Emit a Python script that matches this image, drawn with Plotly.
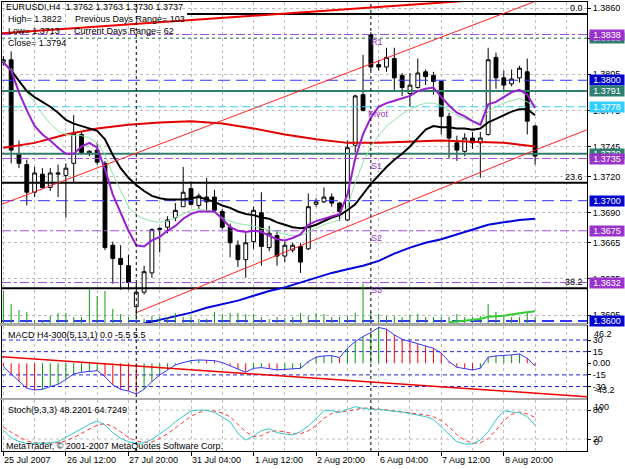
import plotly.graph_objects as go

# ---------------- data ----------------
bar_idx = list(range(69))
open_ = [1.3815, 1.3817, 1.3739, 1.3730, 1.3707, 1.3722, 1.3711, 1.3722, 1.3721, 1.3731,
         1.3755, 1.3739, 1.3742, 1.3731, 1.3663, 1.3652, 1.3646, 1.3612, 1.3624, 1.3640,
         1.3676, 1.3678, 1.3686, 1.3695, 1.3710, 1.3696, 1.3703, 1.3703, 1.3691, 1.3678,
         1.3663, 1.3651, 1.3666, 1.3690, 1.3661, 1.3671, 1.3654, 1.3659, 1.3662, 1.3660,
         1.3697, 1.3699, 1.3703, 1.3698, 1.3684, 1.3746, 1.3788, 1.3838, 1.3813, 1.3811,
         1.3818, 1.3804, 1.3789, 1.3794, 1.3807, 1.3804, 1.3799, 1.3770, 1.3748, 1.3741,
         1.3752, 1.3748, 1.3755, 1.3819, 1.3802, 1.3797, 1.3802, 1.3807, 1.3762]
high = [1.3820, 1.3824, 1.3750, 1.3734, 1.3728, 1.3727, 1.3727, 1.3730, 1.3731, 1.3771,
        1.3757, 1.3742, 1.3748, 1.3733, 1.3666, 1.3663, 1.3655, 1.3632, 1.3646, 1.3677,
        1.3678, 1.3687, 1.3698, 1.3728, 1.3716, 1.3706, 1.3719, 1.3709, 1.3693, 1.3681,
        1.3667, 1.3673, 1.3695, 1.3707, 1.3679, 1.3675, 1.3666, 1.3665, 1.3665, 1.3706,
        1.3702, 1.3711, 1.3706, 1.3699, 1.3750, 1.3788, 1.3821, 1.3840, 1.3817, 1.3827,
        1.3827, 1.3806, 1.3806, 1.3818, 1.3809, 1.3807, 1.3800, 1.3773, 1.3754, 1.3756,
        1.3757, 1.3757, 1.3827, 1.3823, 1.3808, 1.3809, 1.3812, 1.3818, 1.3763]
low = [1.3812, 1.3731, 1.3727, 1.3696, 1.3703, 1.3710, 1.3708, 1.3703, 1.3686, 1.3715,
       1.3738, 1.3737, 1.3730, 1.3659, 1.3631, 1.3626, 1.3626, 1.3605, 1.3622, 1.3636,
       1.3657, 1.3673, 1.3683, 1.3695, 1.3696, 1.3693, 1.3692, 1.3691, 1.3676, 1.3653,
       1.3645, 1.3636, 1.3660, 1.3646, 1.3658, 1.3646, 1.3649, 1.3657, 1.3640, 1.3659,
       1.3695, 1.3698, 1.3695, 1.3683, 1.3683, 1.3740, 1.3774, 1.3808, 1.3808, 1.3807,
       1.3792, 1.3787, 1.3778, 1.3793, 1.3796, 1.3788, 1.3755, 1.3735, 1.3733, 1.3737,
       1.3743, 1.3719, 1.3754, 1.3793, 1.3792, 1.3795, 1.3798, 1.3755, 1.3730]
close = [1.3817, 1.3742, 1.3731, 1.3707, 1.3723, 1.3711, 1.3723, 1.3723, 1.3727, 1.3756,
         1.3740, 1.3741, 1.3732, 1.3661, 1.3652, 1.3647, 1.3632, 1.3624, 1.3641, 1.3676,
         1.3677, 1.3684, 1.3692, 1.3707, 1.3697, 1.3704, 1.3699, 1.3692, 1.3678, 1.3665,
         1.3651, 1.3665, 1.3692, 1.3662, 1.3673, 1.3654, 1.3663, 1.3663, 1.3649, 1.3695,
         1.3699, 1.3703, 1.3698, 1.3691, 1.3744, 1.3787, 1.3775, 1.3811, 1.3811, 1.3819,
         1.3802, 1.3794, 1.3796, 1.3806, 1.3803, 1.3799, 1.3770, 1.3752, 1.3742, 1.3752,
         1.3748, 1.3752, 1.3817, 1.3802, 1.3796, 1.3801, 1.3810, 1.3766, 1.3737]

ma_purple = [1.3815, 1.3808, 1.3790, 1.3775, 1.3762, 1.3755, 1.3750, 1.3744, 1.3739, 1.3739,
             1.3745, 1.3748, 1.3744, 1.3726, 1.3705, 1.3690, 1.3675, 1.3663, 1.3662, 1.3667,
             1.3670, 1.3675, 1.3679, 1.3685, 1.3689, 1.3691, 1.3691, 1.3691, 1.3685, 1.3678,
             1.3675, 1.3674, 1.3675, 1.3674, 1.3671, 1.3668, 1.3667, 1.3669, 1.3672, 1.3680,
             1.3683, 1.3685, 1.3687, 1.3689, 1.3705, 1.3735, 1.3755, 1.3769, 1.3778, 1.3781,
             1.3783, 1.3785, 1.3787, 1.3791, 1.3793, 1.3794, 1.3786, 1.3779, 1.3773, 1.3770,
             1.3766, 1.3763, 1.3780, 1.3782, 1.3786, 1.3790, 1.3792, 1.3788, 1.3777]
ma_green = [None, 1.3810, 1.3800, 1.3790, 1.3782, 1.3772, 1.3764, 1.3758, 1.3755, 1.3754,
            1.3754, 1.3752, 1.3748, 1.3738, 1.3722, 1.3708, 1.3695, 1.3688, 1.3685, 1.3683,
            1.3682, 1.3683, 1.3686, 1.3689, 1.3692, 1.3693, 1.3692, 1.3690, 1.3686, 1.3683,
            1.3681, 1.3680, 1.3679, 1.3677, 1.3676, 1.3674, 1.3672, 1.3671, 1.3671, 1.3674,
            1.3677, 1.3680, 1.3682, 1.3684, 1.3695, 1.3715, 1.3732, 1.3745, 1.3754, 1.3762,
            1.3767, 1.3772, 1.3776, 1.3779, 1.3781, 1.3781, 1.3779, 1.3775, 1.3771, 1.3768,
            1.3766, 1.3765, 1.3774, 1.3778, 1.3781, 1.3783, 1.3785, 1.3782, 1.3778]
ma_black = [None, 1.3808, 1.3799, 1.3791, 1.3786, 1.3782, 1.3778, 1.3773, 1.3767, 1.3764,
            1.3762, 1.3760, 1.3758, 1.3751, 1.3738, 1.3727, 1.3719, 1.3713, 1.3708, 1.3704,
            1.3702, 1.3701, 1.3701, 1.3701, 1.3702, 1.3703, 1.3701, 1.3699, 1.3696, 1.3694,
            1.3691, 1.3689, 1.3688, 1.3686, 1.3685, 1.3682, 1.3680, 1.3678, 1.3677, 1.3678,
            1.3680, 1.3683, 1.3686, 1.3688, 1.3692, 1.3697, 1.3706, 1.3714, 1.3721, 1.3728,
            1.3734, 1.3739, 1.3745, 1.3752, 1.3759, 1.3762, 1.3761, 1.3761, 1.3760, 1.3760,
            1.3759, 1.3760, 1.3765, 1.3768, 1.3771, 1.3774, 1.3776, 1.3776, 1.3771]
red_idx = [0, 4, 8, 12, 16, 20, 24, 28, 32, 36, 40, 44, 48, 52, 56, 60, 64, 68]
ma_red = [1.3744, 1.3748, 1.3755, 1.3760, 1.3763, 1.3765, 1.3766, 1.3764, 1.3760,
          1.3755, 1.3751, 1.3748, 1.3748, 1.3749, 1.3750, 1.3749, 1.3748, 1.3745]
blue_idx = list(range(16, 69, 2))
ma_blue = [1.3594, 1.3598, 1.3601, 1.3604, 1.3607, 1.3611, 1.3614, 1.3617, 1.3621,
           1.3625, 1.3628, 1.3632, 1.3636, 1.3640, 1.3643, 1.3646, 1.3650, 1.3656,
           1.3661, 1.3665, 1.3668, 1.3672, 1.3676, 1.3680, 1.3682, 1.3684, 1.3685]

volume = [1600, 950, 650, 550, 150, 150, 350, 500, 500, 300,
          300, 1700, 1350, 1600, 700, 450, 300, 450, 200, 350,
          300, 300, 500, 300, 300, 200, 200, 550, 450, 500,
          500, 450, 450, 300, 200, 300, 250, 300, 500, 350,
          500, 450, 300, 300, 350, 500, 1950, 550, 450, 350,
          350, 300, 400, 450, 300, 300, 300, 300, 450, 300,
          300, 350, 950, 550, 300, 300, 300, 500, 300]
obv_idx = [57, 59, 61, 62, 64, 66, 68]
obv_val = [35, 115, 200, 315, 365, 485, 585]

# trendlines (anchor points)
chanA_x, chanA_y = [-0.2, 68, 74.7], [1.3697, 1.3865, 1.3882]
chanB_x, chanB_y = [17, 68, 74.7], [1.3607, 1.3742, 1.3759]
topline_x, topline_y = [-0.2, 74.7], [1.3839, 1.3873]

macd = [-4.3, -13.8, -23.7, -32.3, -34.5, -33.6, -30.2, -27.2, -20.7, -13.8,
        -11.6, -10.8, -9.5, -17.2, -28.0, -33.6, -35.8, -39.7, -33.6, -23.7,
        -15.1, -8.6, -2.2, 0.9, 3.4, 4.3, 4.3, 3.4, 0.9, -3.4,
        -7.8, -11.6, -6.5, -5.6, -6.9, -8.6, -7.8, -7.3, -6.5, 2.2,
        7.8, 9.5, 9.9, 7.3, 19.4, 28.0, 34.5, 39.7, 46.2, 44.0,
        36.6, 31.0, 28.0, 25.0, 22.4, 19.4, 12.9, 2.2, -5.2, -6.9,
        -8.6, -6.5, 7.8, 9.5, 9.9, 10.8, 12.1, 6.5, -3.4]
macd_trend_x, macd_trend_y = [-0.2, 74.7], [8.3, -43.2]
macd_levels = [30, 15, -15, -30]
macd_max, macd_min = 46.2, -43.2

stoch_main = [38.6, 22.8, 14.5, 11, 11, 11, 11.7, 14.5, 23.5, 31.7,
              40.7, 50.4, 57.3, 49, 33.1, 21.4, 14.5, 11, 12.4, 19.3,
              30.4, 42.1, 55.9, 66.3, 78, 80, 79.4, 75.2, 66.3, 55.9,
              31.7, 17.9, 26.2, 37.3, 41.4, 33.1, 30.4, 28.3, 35.2, 46.9,
              62.1, 78.7, 78.7, 74.5, 81.4, 87, 83.5, 81.4, 81.4, 78.7,
              77.3, 75.9, 73.2, 69.7, 66.3, 60.7, 45.5, 28.3, 14.5, 9.7,
              9.7, 17.9, 35.2, 59.4, 78.7, 75.9, 74.5, 66.3, 48.2]
stoch_sig = [45, 34, 25, 16, 12, 11, 11, 12, 16, 23,
             32, 41, 49, 52, 46, 35, 23, 16, 13, 14,
             21, 31, 43, 55, 67, 75, 79, 78, 74, 66,
             51, 35, 25, 27, 35, 37, 35, 31, 31, 37,
             48, 63, 73, 77, 78, 81, 84, 84, 82, 80,
             79, 77, 75, 73, 70, 66, 58, 45, 29, 18,
             11, 12, 21, 38, 58, 71, 76, 72, 64.7]
stoch_levels = [20, 80]

price_ticks = [1.3860, 1.3835, 1.3805, 1.3775, 1.3745, 1.3720, 1.3690, 1.3665, 1.3635, 1.3605]
macd_ticks = [30, 15, 0, -15, -30]
macd_ticktext = ["30", "15", "0.00", "-15", "-30"]
stoch_ticks = [80, 20]
stoch_edge_vals = [100, 0]

date_idx = [0, 8, 16, 24, 32, 40, 48, 56, 64]
date_text = ["25 Jul 2007", "26 Jul 12:00", "27 Jul 20:00", "31 Jul 04:00", "1 Aug 12:00",
             "2 Aug 20:00", "6 Aug 04:00", "7 Aug 12:00", "8 Aug 20:00"]
week_sep_idx = [17, 47]

level_price = [1.3835, 1.3838, 1.3800, 1.3791, 1.3778, 1.3739, 1.3735, 1.3700, 1.3675, 1.3632, 1.3600]
fib_price = [1.3855, 1.37148, 1.36272]
fib_name = ["0.0", "23.6", "38.2"]
fib_start = [23.5, -0.2, -0.2]
pivot_name = ["R1", "Pivot", "S1", "S2", "S3"]
pivot_price = [1.3838, 1.3778, 1.3735, 1.3675, 1.3632]

# ---------------- styles ----------------
FONT = "Liberation Sans, Arial, sans-serif"
GRID = "#BDBDBD"
PURPLE = "#9933CC"
TEAL = "#2F7F6F"
BLUE = "#0000CC"
CYAN = "#33CCFF"
level_style = {
    1.3835: (TEAL, "dot", 1, TEAL),
    1.3838: ("#A050E0", "dashdot", 1, PURPLE),
    1.3800: ("#3333FF", "12px,6px", 1, BLUE),
    1.3791: (TEAL, "solid", 2, TEAL),
    1.3778: (CYAN, "8px,4px", 1, CYAN),
    1.3739: (TEAL, "solid", 2, TEAL),
    1.3735: ("#A050E0", "dashdot", 1, PURPLE),
    1.3700: ("#3333FF", "12px,6px", 1, BLUE),
    1.3675: ("#A050E0", "dashdot", 1, PURPLE),
    1.3632: ("#A050E0", "dashdot", 1, PURPLE),
    1.3600: ("#3333FF", "12px,6px", 2, BLUE),
}

# layout geometry (pixels)
PL, PR, PT, PB = 2, 587, 2, 451
def px_x(xp):
    return (xp - PL) / (PR - PL)
def px_y(yp):
    return (PB - yp) / (PB - PT)

XR = [-0.17, 74.64]
main_dom = [px_y(323), 1.0]
macd_dom = [px_y(398), px_y(326)]
stoch_dom = [0.0, px_y(400)]
main_range = [1.35984, 1.3865]

fig = go.Figure()

def hline(y, x0, x1, color, dash, width, xa="x", ya="y"):
    fig.add_trace(go.Scatter(x=[x0, x1], y=[y, y], mode="lines",
                             line=dict(color=color, dash=dash, width=width),
                             xaxis=xa, yaxis=ya, hoverinfo="skip"))

# ---- main panel: level lines first (under candles) ----
for p in level_price:
    col, dash, w, _ = level_style[p]
    hline(p, XR[0], XR[1], col, dash, w)
for p, s in zip(fib_price, fib_start):
    hline(p, s, XR[1], "black", "solid", 2)

fig.add_trace(go.Candlestick(
    x=bar_idx, open=open_, high=high, low=low, close=close,
    increasing=dict(fillcolor="white", line=dict(color="black", width=1)),
    decreasing=dict(fillcolor="black", line=dict(color="black", width=1)),
    whiskerwidth=0, xaxis="x", yaxis="y", hoverinfo="skip"))

fig.add_trace(go.Scatter(x=red_idx, y=ma_red, mode="lines", line=dict(color="#E00000", width=2),
                         xaxis="x", yaxis="y"))
fig.add_trace(go.Scatter(x=blue_idx, y=ma_blue, mode="lines", line=dict(color="#0000E0", width=2),
                         xaxis="x", yaxis="y"))
fig.add_trace(go.Scatter(x=bar_idx, y=ma_green, mode="lines", line=dict(color="#8FE3A8", width=1),
                         xaxis="x", yaxis="y"))
fig.add_trace(go.Scatter(x=bar_idx, y=ma_black, mode="lines", line=dict(color="black", width=2),
                         xaxis="x", yaxis="y"))
fig.add_trace(go.Scatter(x=bar_idx, y=ma_purple, mode="lines", line=dict(color="#9A1FD0", width=2),
                         xaxis="x", yaxis="y"))
fig.add_trace(go.Scatter(x=chanA_x, y=chanA_y, mode="lines", line=dict(color="#FF2020", width=1),
                         xaxis="x", yaxis="y"))
fig.add_trace(go.Scatter(x=chanB_x, y=chanB_y, mode="lines", line=dict(color="#FF2020", width=1),
                         xaxis="x", yaxis="y"))
fig.add_trace(go.Scatter(x=topline_x, y=topline_y, mode="lines", line=dict(color="#EE0000", width=2),
                         xaxis="x", yaxis="y"))

# volume overlay
vx, vy = [], []
for i, v in zip(bar_idx, volume):
    vx += [i, i, None]
    vy += [0, v, None]
fig.add_trace(go.Scatter(x=vx, y=vy, mode="lines", line=dict(color="#139A13", width=1),
                         xaxis="x", yaxis="y4"))
fig.add_trace(go.Scatter(x=obv_idx, y=obv_val, mode="lines", line=dict(color="#33CC33", width=2),
                         xaxis="x", yaxis="y4"))

# ---- MACD panel ----
for lv in macd_levels:
    hline(lv, XR[0], XR[1], "#2222DD", "4px,3px", 1, "x2", "y2")
gx, gy, rx, ry = [], [], [], []
for k, v in enumerate(macd):
    up = k > 0 and v > macd[k - 1]
    if up:
        gx += [k, k, None]; gy += [0, v, None]
    else:
        rx += [k, k, None]; ry += [0, v, None]
fig.add_trace(go.Scatter(x=gx, y=gy, mode="lines", line=dict(color="#009900", width=1),
                         xaxis="x2", yaxis="y2"))
fig.add_trace(go.Scatter(x=rx, y=ry, mode="lines", line=dict(color="#FF0000", width=1),
                         xaxis="x2", yaxis="y2"))
fig.add_trace(go.Scatter(x=bar_idx, y=macd, mode="lines", line=dict(color="#3333FF", width=1),
                         xaxis="x2", yaxis="y2"))
fig.add_trace(go.Scatter(x=macd_trend_x, y=macd_trend_y, mode="lines",
                         line=dict(color="#EE0000", width=1.5), xaxis="x2", yaxis="y2"))

# ---- Stoch panel ----
for lv in stoch_levels:
    hline(lv, XR[0], XR[1], GRID, "dot", 1, "x3", "y3")
fig.add_trace(go.Scatter(x=bar_idx, y=stoch_sig, mode="lines",
                         line=dict(color="#FF3333", width=1, dash="4px,3px"), xaxis="x3", yaxis="y3"))
fig.add_trace(go.Scatter(x=bar_idx, y=stoch_main, mode="lines",
                         line=dict(color="#33C6CC", width=1), xaxis="x3", yaxis="y3"))

# ---------------- shapes ----------------
shapes = []
for s in week_sep_idx:
    shapes.append(dict(type="line", xref="x", yref="paper", x0=s, x1=s, y0=0, y1=1,
                       line=dict(color="black", dash="3px,3px", width=1), layer="above"))
for ya, yb in [(323, 326), (398, 400)]:
    shapes.append(dict(type="rect", xref="paper", yref="paper", x0=-0.004, x1=1.0,
                       y0=px_y(yb), y1=px_y(ya), fillcolor="#A8A8A8",
                       line=dict(width=0), layer="above"))

# ---------------- annotations ----------------
ann = []
def txt(xp, yp, s, color="black", size=9, xanchor="left"):
    ann.append(dict(xref="paper", yref="paper", x=px_x(xp), y=px_y(yp), text=s,
                    showarrow=False, xanchor=xanchor, yanchor="middle",
                    font=dict(family=FONT, size=size, color=color)))

txt(4, 7, "EURUSD!,H4  1.3762 1.3763 1.3730 1.3737")
txt(6, 19, "High= 1.3822")
txt(73, 19, "Previous Days Range= 103")
txt(6, 31, "Low= 1.3713")
txt(72, 31, "Current Days Range= 62")
txt(6, 43, "Close= 1.3794")
txt(6, 335, "MACD H4-300(5,13,1) 0.0 -5.5 5.5")
txt(6, 410, "Stoch(9,3,3) 48.2201 64.7249")
txt(4, 446, "MetaTrader, © 2001-2007 MetaQuotes Software Corp.")

for i, s in zip(date_idx, date_text):
    ann.append(dict(xref="x3", yref="paper", x=i, y=px_y(460), text=s, showarrow=False,
                    xanchor="left", yanchor="middle", xshift=-1,
                    font=dict(family=FONT, size=9, color="black")))

for p in level_price:
    _, _, _, boxcol = level_style[p]
    ann.append(dict(xref="paper", yref="y", x=1.0, y=p, text=f"{p:.4f}", showarrow=False,
                    xanchor="left", yanchor="middle", xshift=2, bgcolor=boxcol,
                    width=34, height=10, borderpad=0, align="center",
                    font=dict(family=FONT, size=9, color="white")))

for p, s in zip(fib_price, fib_name):
    ann.append(dict(xref="paper", yref="y", x=1.0, y=p, text=s, showarrow=False,
                    xanchor="right", yanchor="bottom", xshift=-2, yshift=-1,
                    font=dict(family=FONT, size=9, color="black")))

for p, s in zip(pivot_price, pivot_name):
    ann.append(dict(xref="x", yref="y", x=47, y=p, text=s, showarrow=False,
                    xanchor="left", yanchor="top", xshift=-2 if s != "Pivot" else -5,
                    font=dict(family=FONT, size=9, color=PURPLE)))

# window max/min labels drawn just inside the sub-window edges (as MetaTrader does)
for v, anchor, ya in [(macd_max, "top", "y2"), (macd_min, "bottom", "y2"),
                      (stoch_edge_vals[0], "top", "y3"), (stoch_edge_vals[1], "bottom", "y3")]:
    label = f"{v:g}" if ya == "y3" else f"{v:.1f}"
    ann.append(dict(xref="paper", yref=ya, x=1.0, y=v, text=label, showarrow=False,
                    xanchor="left", yanchor=anchor, xshift=5,
                    font=dict(family=FONT, size=9, color="black")))

grid_idx = list(range(0, 76, 4))
axis_common = dict(range=XR, showticklabels=False, zeroline=False, showline=True, mirror=True,
                   linecolor="black", linewidth=1)

fig.update_layout(
    width=625, height=469,
    margin=dict(l=PL, r=625 - PR, t=PT, b=469 - PB),
    paper_bgcolor="white", plot_bgcolor="white", showlegend=False, hovermode=False,
    font=dict(family=FONT, size=9, color="black"),
    xaxis=dict(domain=[0, 1], anchor="y", tickvals=grid_idx, ticks="", showgrid=True,
               gridcolor=GRID, griddash="dot", rangeslider=dict(visible=False), **axis_common),
    xaxis2=dict(domain=[0, 1], anchor="y2", tickvals=grid_idx, ticks="", showgrid=True,
                gridcolor=GRID, griddash="dot", **axis_common),
    xaxis3=dict(domain=[0, 1], anchor="y3", tickvals=date_idx, ticks="outside", ticklen=4,
                tickcolor="black", showgrid=True, gridcolor=GRID, griddash="dot",
                minor=dict(tick0=0, dtick=4, showgrid=True, gridcolor=GRID, griddash="dot", ticks=""),
                **axis_common),
    yaxis=dict(domain=main_dom, range=main_range, anchor="x", side="right",
               tickvals=price_ticks, ticktext=[f"{v:.4f}" for v in price_ticks],
               ticks="outside", ticklen=3, tickcolor="black", showgrid=True, gridcolor=GRID,
               griddash="dot", zeroline=False, showline=True, mirror=True, linecolor="black",
               tickfont=dict(family=FONT, size=9, color="black")),
    yaxis4=dict(overlaying="y", range=[0, 16050], anchor="x", side="right", visible=False),
    yaxis2=dict(domain=macd_dom, range=[-44.8, 48.1], anchor="x2", side="right",
                tickvals=macd_ticks, ticktext=macd_ticktext, ticks="outside", ticklen=3,
                tickcolor="black", showgrid=False, zeroline=False, showline=True, mirror=True,
                linecolor="black", tickfont=dict(family=FONT, size=9, color="black")),
    yaxis3=dict(domain=stoch_dom, range=[-4.8, 100.8], anchor="x3", side="right",
                tickvals=stoch_ticks, ticks="outside", ticklen=3, tickcolor="black",
                showgrid=False, zeroline=False, showline=True, mirror=True, linecolor="black",
                tickfont=dict(family=FONT, size=9, color="black")),
    shapes=shapes, annotations=ann,
)

fig.write_html("out.html")
